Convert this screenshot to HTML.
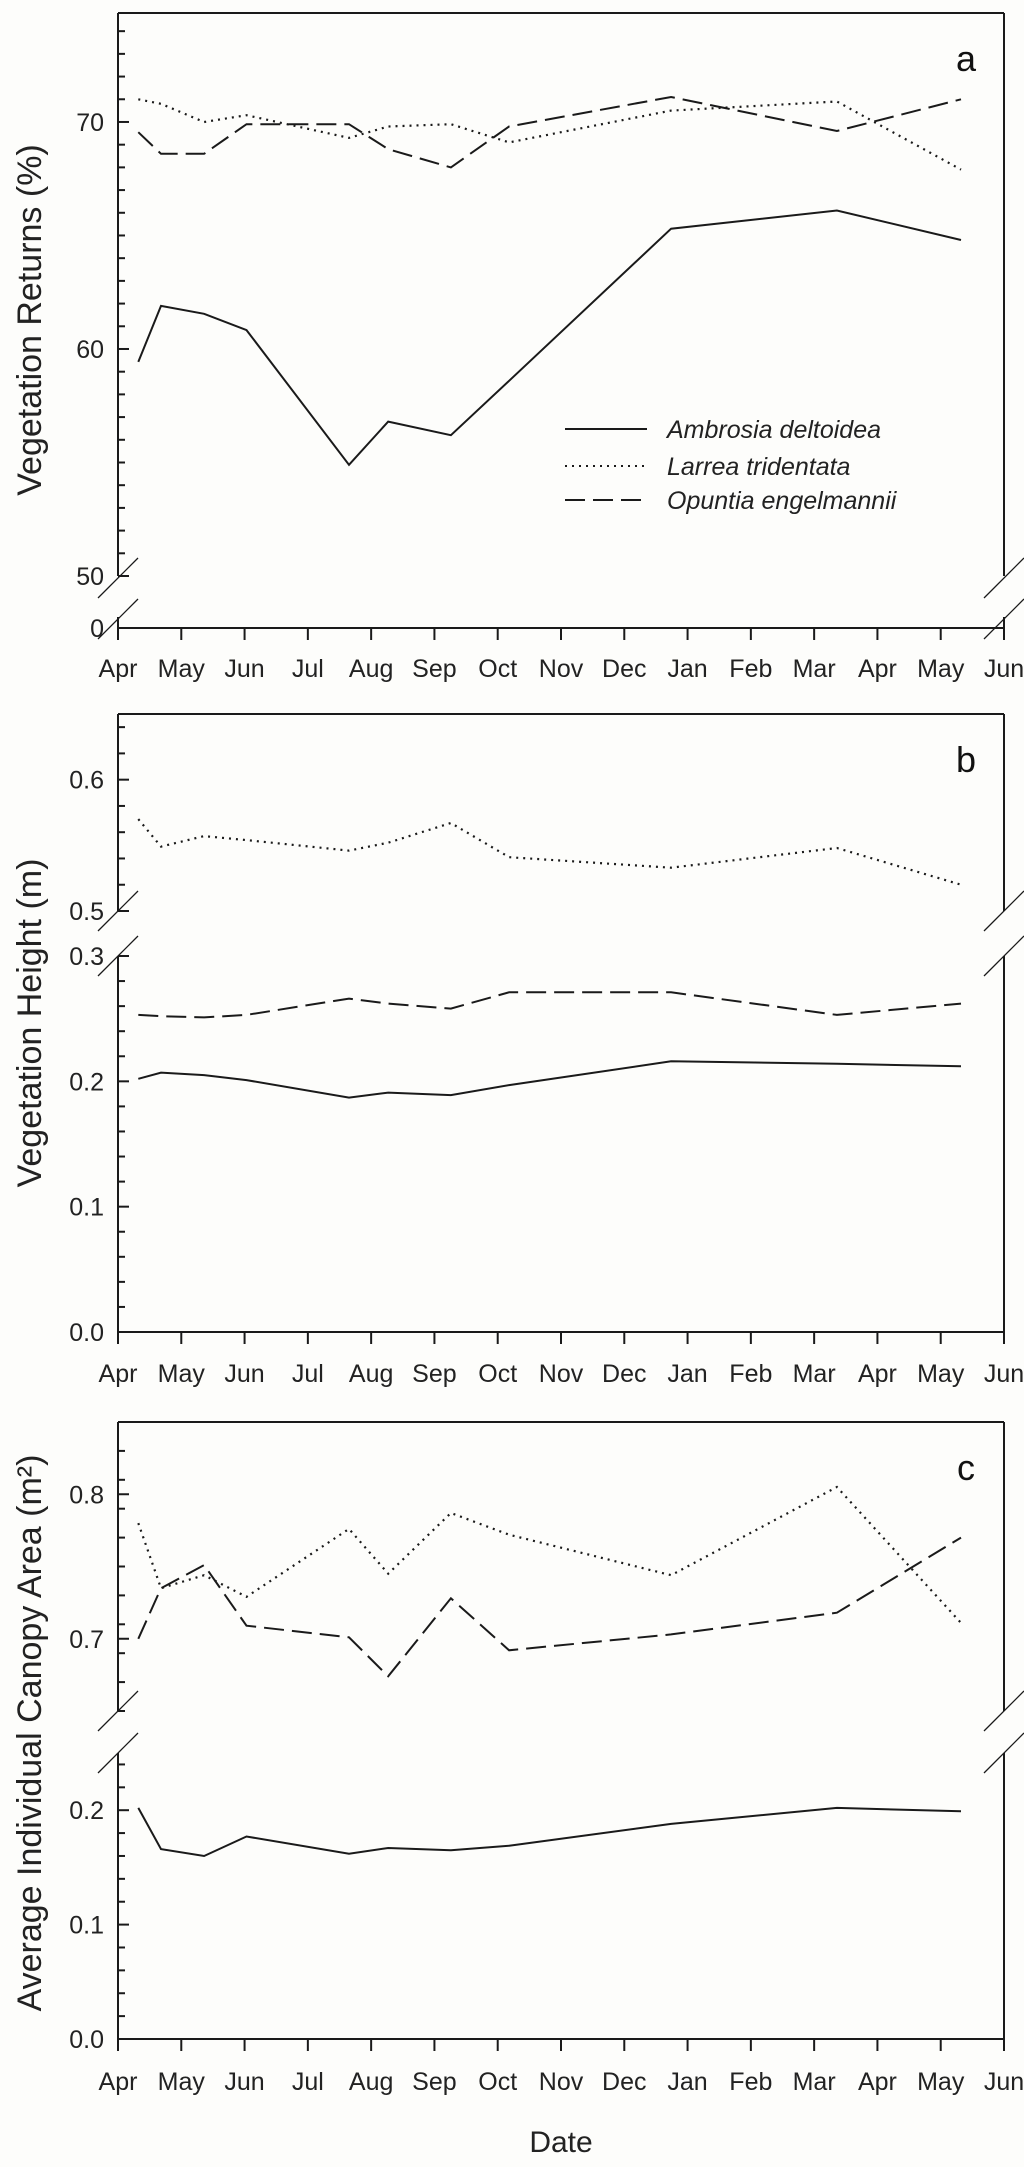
<!DOCTYPE html>
<html><head><meta charset="utf-8"><style>
html,body{margin:0;padding:0;background:#fdfdfb;}
svg{display:block;font-family:"Liberation Sans",sans-serif;}
</style></head><body>
<svg id="chart" width="1024" height="2167" viewBox="0 0 1024 2167" xmlns="http://www.w3.org/2000/svg">
<rect width="1024" height="2167" fill="#fdfdfb"/>
</svg>
<script>
const months = ["Apr","May","Jun","Jul","Aug","Sep","Oct","Nov","Dec","Jan","Feb","Mar","Apr","May","Jun"];
const dates = [0.32,0.68,1.36,2.03,3.65,4.27,5.26,6.18,8.74,11.36,13.32];
const aAmbrosia = [59.43,61.9,61.55,60.83,54.9,56.8,56.2,58.6,65.3,66.1,64.8];
const aLarrea   = [71.0,70.8,70.0,70.3,69.3,69.8,69.9,69.1,70.5,70.9,67.9];
const aOpuntia  = [69.55,68.6,68.6,69.9,69.9,68.8,68.0,69.8,71.1,69.6,71.0];
const bAmbrosia = [0.202,0.207,0.205,0.201,0.187,0.191,0.189,0.197,0.216,0.214,0.212];
const bLarrea   = [0.570,0.549,0.557,0.554,0.546,0.552,0.567,0.541,0.533,0.548,0.520];
const bOpuntia  = [0.253,0.252,0.251,0.253,0.266,0.262,0.258,0.271,0.271,0.253,0.262];
const cAmbrosia = [0.202,0.166,0.160,0.177,0.162,0.167,0.165,0.169,0.188,0.202,0.199];
const cLarrea   = [0.780,0.735,0.744,0.729,0.776,0.745,0.787,0.772,0.744,0.805,0.711];
const cOpuntia  = [0.700,0.735,0.751,0.709,0.701,0.674,0.728,0.692,0.703,0.718,0.770];
const aTickValues = [0,50,60,70];
const aTickLabels = ["0","50","60","70"];
const bTickValues = [0,0.1,0.2,0.3,0.5,0.6];
const bTickLabels = ["0.0","0.1","0.2","0.3","0.5","0.6"];
const cTickValues = [0,0.1,0.2,0.7,0.8];
const cTickLabels = ["0.0","0.1","0.2","0.7","0.8"];

const NS="http://www.w3.org/2000/svg";
const svg=document.getElementById('chart');
const L=118,R=1004;
function xs(m){return L+m*(R-L)/14;}
function mk(tag,attrs,parent){const e=document.createElementNS(NS,tag);for(const k in attrs)e.setAttribute(k,attrs[k]);(parent||svg).appendChild(e);return e;}

const panels=[
 {id:'a',top:13,bottom:628,
  segs:[{v0:0,v1:0.5,y0:628,y1:617,minor:0},{v0:50,v1:74.8,y0:576,y1:13,minor:1}],
  tv:aTickValues,labels:aTickLabels,series:[aAmbrosia,aLarrea,aOpuntia],
  slash:[578,619],xlab:677,title:"Vegetation Returns (%)",tcy:320,letter:'a'},
 {id:'b',top:714,bottom:1332,
  segs:[{v0:0,v1:0.3,y0:1332,y1:956,minor:0.02},{v0:0.5,v1:0.65,y0:911,y1:714,minor:0.02}],
  tv:bTickValues,labels:bTickLabels,series:[bAmbrosia,bLarrea,bOpuntia],
  slash:[911,956],xlab:1382,title:"Vegetation Height (m)",tcy:1023,letter:'b'},
 {id:'c',top:1422,bottom:2039,
  segs:[{v0:0,v1:0.25,y0:2039,y1:1753,minor:0.02},{v0:0.65,v1:0.85,y0:1711,y1:1422,minor:0.02}],
  tv:cTickValues,labels:cTickLabels,series:[cAmbrosia,cLarrea,cOpuntia],
  slash:[1711,1753],xlab:2090,title:"Average Individual Canopy Area (m²)",tcy:1733,letter:'c'}
];
const styles=[{name:'ambrosia',dash:''},{name:'larrea',dash:'2 5'},{name:'opuntia',dash:'20 8'}];

panels.forEach(p=>{
  const g=mk('g',{});
  
  
  function ys(v){let s=p.segs[0];for(const sg of p.segs){if(v>=sg.v0-1e-9)s=sg;}return s.y0+(v-s.v0)*(s.y1-s.y0)/(s.v1-s.v0);}
  const ax=mk('g',{stroke:'#1a1a1a','stroke-width':2,fill:'none'},g);
  
  
  mk('line',{x1:L,y1:p.top,x2:R,y2:p.top},ax);
  mk('line',{x1:L-1,y1:p.bottom,x2:R+1,y2:p.bottom},ax);
  p.segs.forEach(sg=>{
    mk('line',{x1:L,y1:sg.y0,x2:L,y2:sg.y1},ax);
    mk('line',{x1:R,y1:sg.y0,x2:R,y2:sg.y1},ax);
  });
  const br=mk('g',{stroke:'#1a1a1a','stroke-width':1.3},g);
  
  
  p.slash.forEach(y=>{
    mk('line',{x1:L-20,y1:y+20,x2:L+20,y2:y-20},br);
    mk('line',{x1:R-20,y1:y+20,x2:R+20,y2:y-20},br);
  });
  p.segs.forEach(sg=>{
    if(!sg.minor)return;
    const n=Math.floor((sg.v1-sg.v0)/sg.minor+1e-6);
    for(let i=0;i<=n;i++){
      const v=sg.v0+i*sg.minor;
      if(p.tv.some(t=>Math.abs(t-v)<1e-6))continue;
      const y=ys(v);
      const t=mk('line',{x1:L,y1:y,x2:L+7,y2:y,stroke:'#1a1a1a','stroke-width':2},g);
      
      
    }
  });
  p.tv.forEach((v,i)=>{
    const y=ys(v);
    const t=mk('line',{x1:L,y1:y,x2:L+11,y2:y,stroke:'#1a1a1a','stroke-width':2},g);
    
    
    const tx=mk('text',{x:104,y:y+9,'text-anchor':'end','font-size':25,fill:'#222'},g);
    
    
    tx.textContent=p.labels[i];
  });
  months.forEach((m,i)=>{
    const x=xs(i);
    const t=mk('line',{x1:x,y1:p.bottom,x2:x,y2:p.bottom+12,stroke:'#1a1a1a','stroke-width':2},g);
    
    
    const tx=mk('text',{x:x,y:p.xlab,'text-anchor':'middle','font-size':25,fill:'#222'},g);
    
    
    tx.textContent=m;
  });
  p.series.forEach((arr,si)=>{
    const pts=arr.map((v,i)=>xs(dates[i]).toFixed(1)+','+ys(v).toFixed(1)).join(' ');
    const pl=mk('polyline',{points:pts,fill:'none',stroke:'#1a1a1a','stroke-width':si==1?2.2:2,'stroke-dasharray':styles[si].dash},g);
    
    
  });
  const tt=mk('text',{x:0,y:0,'text-anchor':'middle','font-size':34,fill:'#222',transform:'translate(41,'+p.tcy+') rotate(-90)'},g);
  
  
  tt.textContent=p.title;
  const lt=mk('text',{x:966,y:p.top+58,'text-anchor':'middle','font-size':36,fill:'#111'},g);
  
  
  lt.textContent=p.letter;
});
const legNames=["Ambrosia deltoidea","Larrea tridentata","Opuntia engelmannii"];
const legY=[429,466,500];
const lg=mk('g',{});


legNames.forEach((n,i)=>{
  const e=mk('g',{},lg);
  
  
  mk('line',{x1:565,y1:legY[i],x2:647,y2:legY[i],stroke:'#1a1a1a','stroke-width':2,'stroke-dasharray':styles[i].dash},e);
  const t=mk('text',{x:667,y:legY[i]+9,'font-size':25,'font-style':'italic',fill:'#222'},e);
  t.textContent=n;
});
const xt=mk('text',{x:561,y:2152,'text-anchor':'middle','font-size':30,fill:'#222'});


xt.textContent="Date";
</script>
</body></html>
